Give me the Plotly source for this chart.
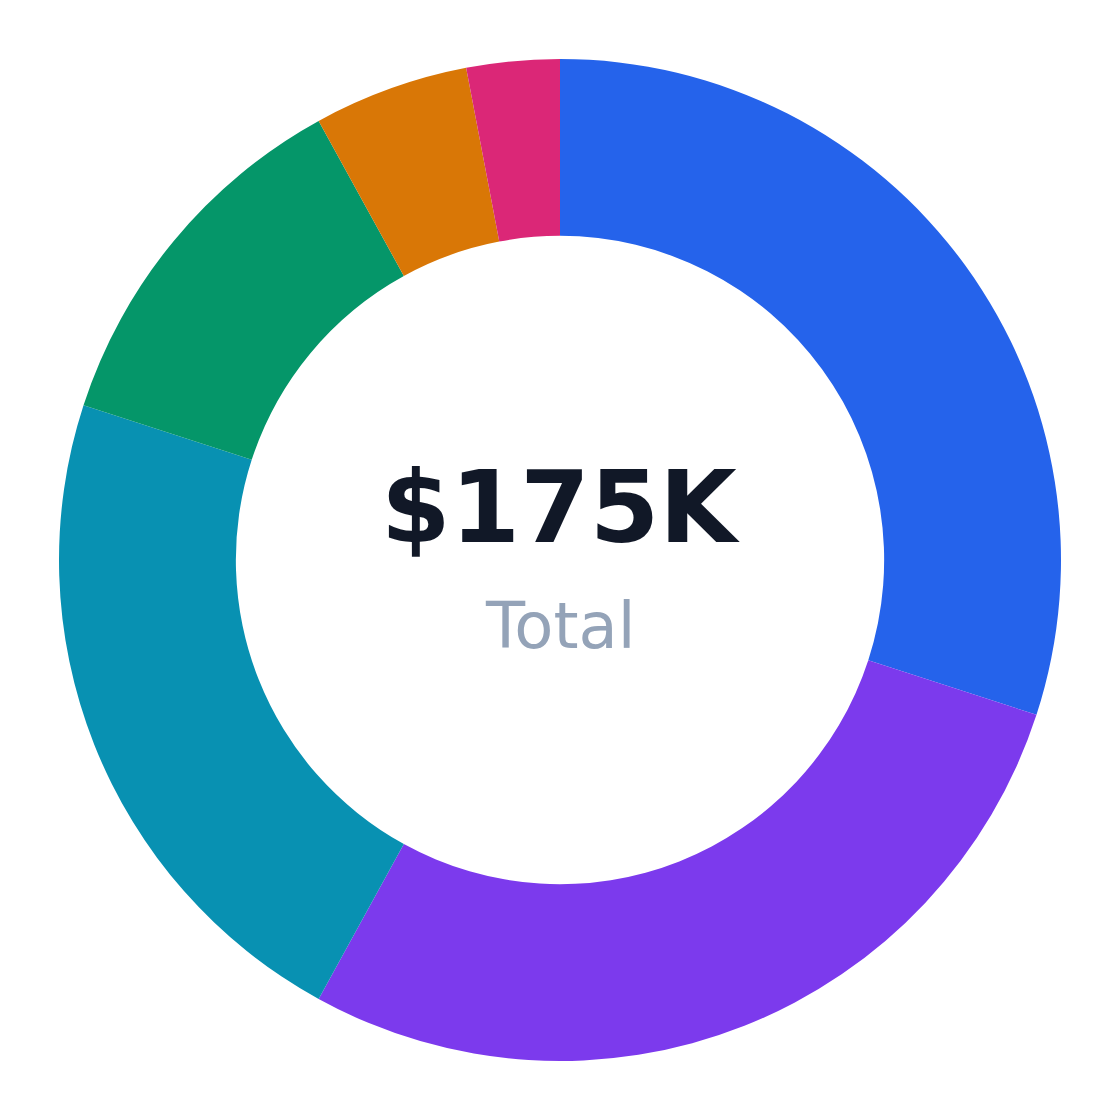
import plotly.graph_objects as go

categories = ["Salaries", "Marketing", "Operations", "Software", "Travel", "Other"]
values = [52500, 49000, 38500, 21000, 8750, 5250]
colors = ["#2563eb", "#7c3aed", "#0891b2", "#059669", "#d97706", "#db2777"]
total_label = "$175K"
sub_label = "Total"

fig = go.Figure(go.Pie(
    labels=categories,
    values=values,
    hole=0.647,
    sort=False,
    direction="clockwise",
    rotation=0,
    marker=dict(colors=colors, line=dict(width=0)),
    textinfo="none",
    hoverinfo="label+value+percent",
    showlegend=False,
))

fig.add_annotation(x=0.5, y=0.552, xref="paper", yref="paper", text="<b>" + total_label + "</b>",
                   showarrow=False, font=dict(family="DejaVu Sans", size=100, color="#111827"),
                   xanchor="center", yanchor="middle")
fig.add_annotation(x=0.5, y=0.434, xref="paper", yref="paper", text=sub_label,
                   showarrow=False, font=dict(family="DejaVu Sans", size=64, color="#94a3b8"),
                   xanchor="center", yanchor="middle")

fig.update_layout(
    width=1104, height=1104,
    margin=dict(l=51, r=51, t=51, b=51),
    paper_bgcolor="white", plot_bgcolor="white",
    font=dict(family="DejaVu Sans"),
)

fig.write_html("out.html")
